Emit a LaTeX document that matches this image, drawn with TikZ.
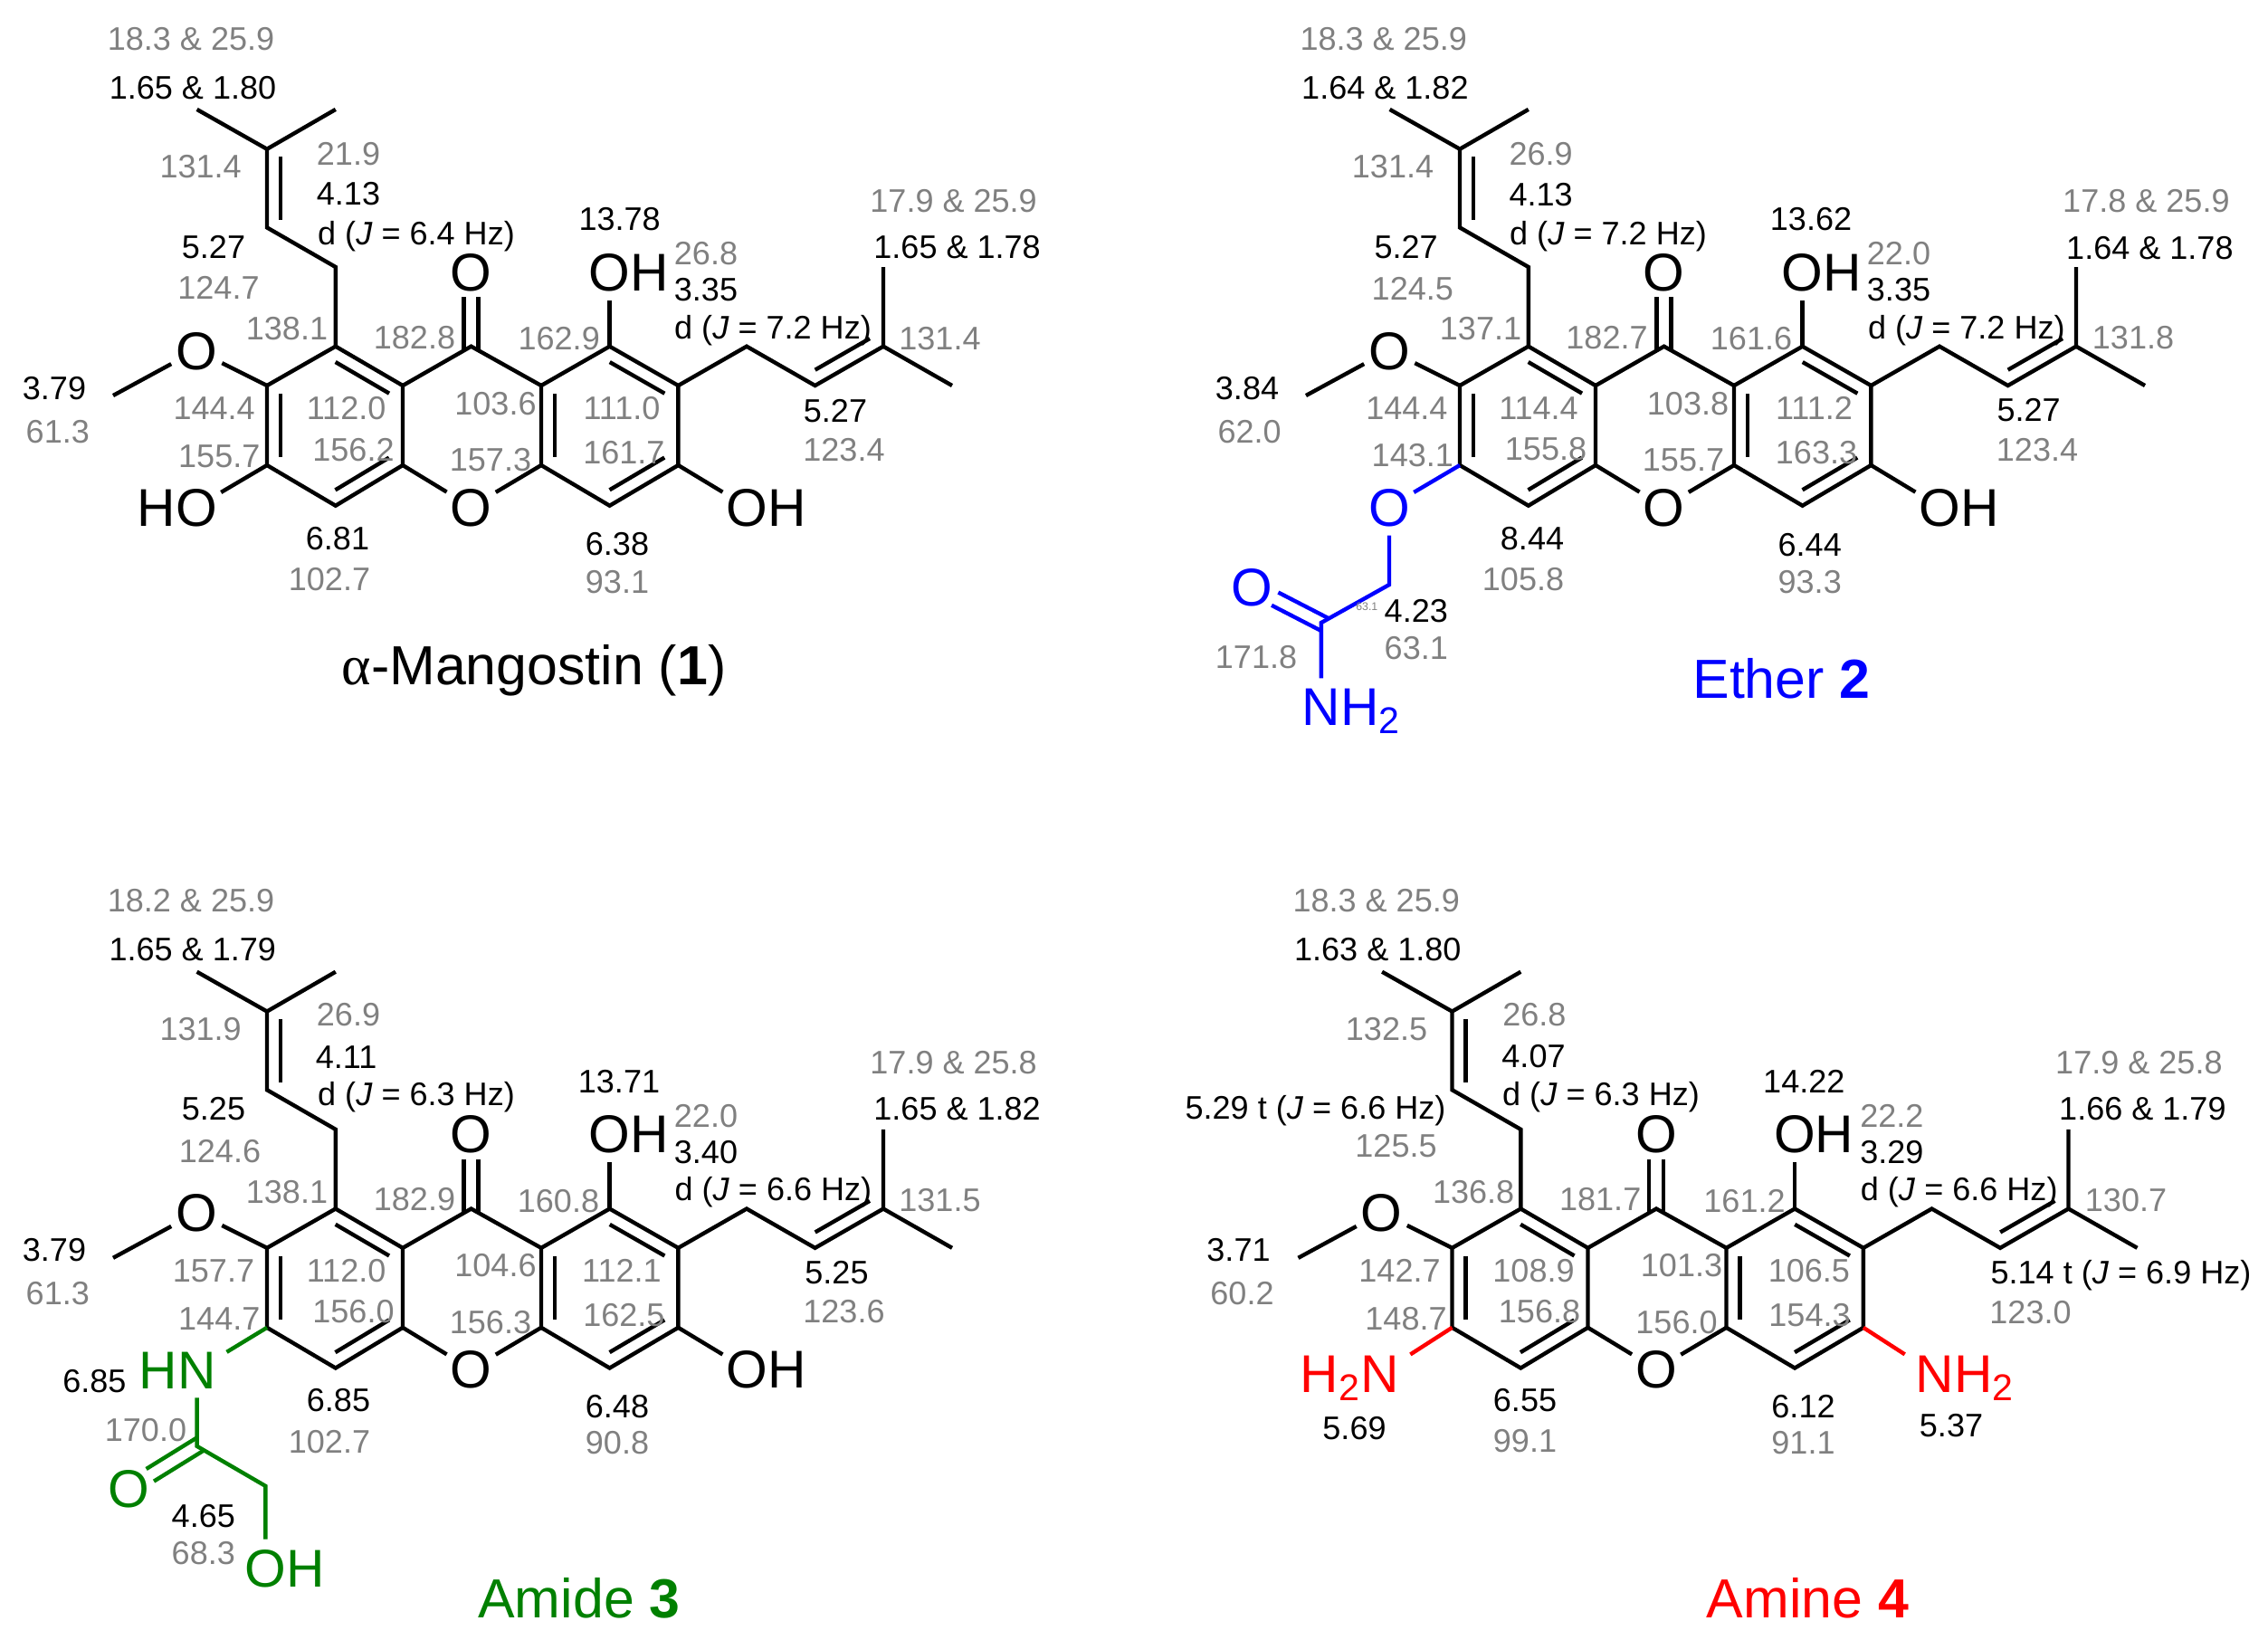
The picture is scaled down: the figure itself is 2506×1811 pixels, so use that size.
\documentclass[tikz,border=0pt]{standalone}
\usepackage{fontspec}
\setmainfont{Liberation Sans}
\newfontfamily\greekfont{Liberation Serif}
\usetikzlibrary{calc}
\definecolor{shiftgray}{HTML}{808080}
\definecolor{ethercol}{HTML}{0000FF}
\definecolor{amidecol}{HTML}{008000}
\definecolor{aminecol}{HTML}{FF0000}
\tikzset{
	bond/.style={line width=1.25pt},
	atom/.style={circle, inner sep=0pt, minimum size=0.56cm, text height=0.42cm, text depth=0pt, font=\fontsize{16.7}{20}\selectfont},
	hshift/.style={inner sep=0pt, text height=0.256cm, text depth=0pt, font=\fontsize{10.25}{12}\selectfont},
	cshift/.style={hshift, text=shiftgray},
	tinyshift/.style={inner sep=0pt, text=shiftgray, font=\fontsize{3.5}{4}\selectfont},
	molname/.style={inner sep=0pt, text height=0.44cm, text depth=0pt, font=\fontsize{17.3}{20}\selectfont}
}
% inner line of a double bond, lies left of the travel direction
\newcommand{\innerbond}[2]{\draw[bond] ($(#1)!.1!(#2)!0.15cm!90:(#2)$) -- ($(#2)!.1!(#1)!0.15cm!-90:(#1)$);}
% carbonyl, two lines from the O node
\newcommand{\carbonyl}[3][black]{\foreach \s in {90,-90} \draw[bond, #1, shorten <=0.28cm, shorten >=-0.05cm] ($(#2)!0.08cm!\s:(#3)$) -- ($(#3)!0.08cm!-\s:(#2)$);}
\newcommand{\dJ}[1]{d (\textit{J} = #1 Hz)}
\newcommand{\skeleton}{
	\coordinate (c1) at (370.8,382.7);
	\coordinate (c2) at (295,426);
	\coordinate (c3) at (295,514);
	\coordinate (c4) at (370.8,558.7);
	\coordinate (c4a) at (445,514);
	\coordinate (c9a) at (445,426);
	\coordinate (c9) at (520.6,382.7);
	\coordinate (c10a) at (598,514);
	\coordinate (c8a) at (598,426);
	\coordinate (c8) at (673.6,382.7);
	\coordinate (c7) at (749.4,426);
	\coordinate (c6) at (749.4,514);
	\coordinate (c5) at (673.6,558.7);
	% left prenyl
	\coordinate (p1) at (370.8,295);
	\coordinate (p2) at (295,251.4);
	\coordinate (p3) at (295,164.7);
	\coordinate (p4) at (217.6,120.9);
	\coordinate (p5) at (370.8,120.9);
	% right prenyl
	\coordinate (q1) at (825,382.7);
	\coordinate (q2) at (900.6,426);
	\coordinate (q3) at (976,382.7);
	\coordinate (q4) at (976,295);
	\coordinate (q5) at (1052,426);
	\coordinate (me) at (125,437);
	\node[atom] (o10) at (520.6,560) {O};
	\node[atom] (o9) at (520.6,300) {O};
	\node[atom] (o8) at (673.6,300) {O\rlap{H}};
	\node[atom] (o2) at (217,387) {O};
	\draw[bond] (c1) -- (c2) -- (c3) -- (c4) -- (c4a) -- (c9a) -- cycle;
	\draw[bond] (c9a) -- (c9) -- (c8a);
	\draw[bond] (c8a) -- (c8) -- (c7) -- (c6) -- (c5) -- (c10a) -- cycle;
	\draw[bond] (c4a) -- (o10) -- (c10a);
	\innerbond{c9a}{c1}
	\innerbond{c2}{c3}
	\innerbond{c4}{c4a}
	\innerbond{c7}{c8}
	\innerbond{c8a}{c10a}
	\innerbond{c5}{c6}
	\carbonyl{o9}{c9}
	\draw[bond] (c8) -- (o8);
	\draw[bond] (c2) -- (o2) -- (me);
	\draw[bond] (c1) -- (p1) -- (p2) -- (p3) -- (p4);
	\draw[bond] (p3) -- (p5);
	\innerbond{p3}{p2}
	\draw[bond] (c7) -- (q1) -- (q2) -- (q3) -- (q4);
	\draw[bond] (q3) -- (q5);
	\innerbond{q2}{q3}
}

\begin{document}
\begin{tikzpicture}[x=0.01cm, y=-0.01cm]
	\useasboundingbox (0,0) rectangle (2506,1811);
	
	%%%%% MANGOSTIN %%%%%
	\begin{scope}[name prefix=m-]
		\skeleton
		\node[atom] (o3) at (217,560) {\llap{H}O};
		\node[atom] (o6) at (825.5,560) {O\rlap{H}};
		\draw[bond] (c3) -- (o3);
		\draw[bond] (c6) -- (o6);
		\foreach \px/\py/\txt [count=\i] in {211/43/18.3 \& 25.9, 221.6/183.6/131.4, 385/170/21.9, 241.5/318/124.7, 780/279.5/26.8, 1053.6/222/17.9 \& 25.9, 1038.5/374/131.4, 317/363/138.1, 458/373/182.8, 617.7/374/162.9, 63.8/477/61.3, 236.7/451/144.4, 382.6/451/112.0, 547.5/446/103.6, 687/451/111.0, 242.3/504/155.7, 390.5/497/156.2, 542/507.5/157.3, 689.4/500/161.7, 932.5/497/123.4, 364/640/102.7, 682/642.6/93.1}
			\node[cshift] (g\i) at (\px,\py) {\txt};
		\foreach \px/\py/\txt [count=\i] in {213/97/1.65 \& 1.80, 385/214/4.13, 460/257.5/\dJ{6.4}, 236/273/5.27, 684.6/242/13.78, 780/320/3.35, 854/362/\dJ{7.2}, 1057.6/273/1.65 \& 1.78, 60/428.4/3.79, 923/454/5.27, 373/595/6.81, 682/601/6.38}
			\node[hshift] (k\i) at (\px,\py) {\txt};
		\node[molname] (name) at (590,734) {{\greekfont\fontsize{17.6}{20}\selectfont α}-Mangostin (\textbf{1})};
	\end{scope}
	
	%%%%% ETHER %%%%%
	\begin{scope}[shift={(1318,0)}, name prefix=e-]
		\skeleton
		\node[atom, text=ethercol] (o3) at (217,560) {O};
		\node[atom] (o6) at (825.5,560) {O\rlap{H}};
		\node[atom, text=ethercol] (o11) at (65.8,648.8) {O};
		\node[atom, text=ethercol] (n1) at (141.9,780) {N\rlap{H\textsubscript{2}}};
		\coordinate (ch2) at (217,646);
		\coordinate (co) at (141.9,688);
		\draw[bond] (c6) -- (o6);
		\draw[bond, ethercol] (c3) -- (o3) -- (ch2) -- (co) -- (n1);
		\carbonyl[ethercol]{o11}{co}
		\foreach \px/\py/\txt [count=\i] in {210.7/42.3/18.3 \& 25.9, 221/184/131.4, 384.6/169.7/26.9, 242.8/318.7/124.5, 780/280/22.0, 1053.4/222/17.8 \& 25.9, 1039/373/131.8, 318/363/137.1, 457.5/373/182.7, 617/374/161.6, 62.6/477/62.0, 236.4/451/144.4, 382/451/114.4, 547/445.5/103.8, 686.5/451/111.2, 242.8/503/143.1, 390/496/155.8, 542/508/155.7, 689/500/163.3, 933/497/123.4, 365/639.6/105.8, 681.7/643/93.3, 246.8/715.4/63.1, 70/726/171.8}
			\node[cshift] (g\i) at (\px,\py) {\txt};
		\foreach \px/\py/\txt [count=\i] in {212.4/96.6/1.64 \& 1.82, 384.6/215/4.13, 459/257.5/\dJ{7.2}, 235.6/272.6/5.27, 683/242/13.62, 780/320/3.35, 854.8/362/\dJ{7.2}, 1057.4/273.7/1.64 \& 1.78, 60/429/3.84, 923.6/452.6/5.27, 375/594.6/8.44, 681.7/601.6/6.44, 246.8/674.8/4.23}
			\node[hshift] (k\i) at (\px,\py) {\txt};
		\node[tinyshift] (g63) at (192.3,670.5) {63.1};
		\node[molname, text=ethercol] (name) at (650.5,749) {Ether \textbf{2}};
	\end{scope}
	
	%%%%% AMIDE %%%%%
	\begin{scope}[shift={(0,952.8)}, name prefix=a-]
		\skeleton
		\node[atom, text=amidecol] (n3) at (217.6,561) {\llap{H}N};
		\node[atom] (o6) at (825.5,560) {O\rlap{H}};
		\node[atom, text=amidecol] (o11) at (142,691.7) {O};
		\node[atom, text=amidecol] (o12) at (293.3,779.5) {O\rlap{H}};
		\coordinate (co) at (217.6,645);
		\coordinate (ch2) at (293.3,689);
		\draw[bond] (c6) -- (o6);
		\draw[bond, amidecol, shorten >=0.08cm] (c3) -- (n3);
		\draw[bond, amidecol] (n3) -- (co) -- (ch2) -- (o12);
		\carbonyl[amidecol]{o11}{co}
		\foreach \px/\py/\txt [count=\i] in {211/42.2/18.2 \& 25.9, 221.6/183.9/131.9, 385/168/26.9, 243/318.4/124.6, 780/280/22.0, 1053.6/221.2/17.9 \& 25.8, 1038.5/373.3/131.5, 317/363.4/138.1, 458/372/182.9, 617/374/160.8, 63.8/476/61.3, 236/451/157.7, 382.6/451/112.0, 547.5/444.6/104.6, 687/451/112.1, 242.3/503.4/144.7, 390.5/495.7/156.0, 542/507.8/156.3, 689.4/499.5/162.5, 932.5/496/123.6, 364/639.5/102.7, 682/641/90.8, 161/627/170.0, 224.8/763/68.3}
			\node[cshift] (g\i) at (\px,\py) {\txt};
		\foreach \px/\py/\txt [count=\i] in {212.8/96.1/1.65 \& 1.79, 382.6/214.7/4.11, 460/256.3/\dJ{6.3}, 236/271.8/5.25, 684/241.5/13.71, 780/319.5/3.40, 854.4/361/\dJ{6.6}, 1057.6/271.7/1.65 \& 1.82, 60/428/3.79, 924.5/453/5.25, 374/594/6.85, 682/601/6.48, 104.4/572.5/6.85, 224.8/722/4.65}
			\node[hshift] (k\i) at (\px,\py) {\txt};
		\node[molname, text=amidecol] (name) at (640,813) {Amide \textbf{3}};
	\end{scope}
	
	%%%%% AMINE %%%%%
	\begin{scope}[shift={(1309.5,952.8)}, name prefix=n-]
		\skeleton
		\node[atom, text=aminecol] (n3) at (215.6,565) {\llap{H\textsubscript{2}}N};
		\node[atom, text=aminecol] (n6) at (828.4,565) {N\rlap{H\textsubscript{2}}};
		\draw[bond, aminecol, shorten >=0.09cm] (c3) -- (n3);
		\draw[bond, aminecol, shorten >=0.09cm] (c6) -- (n6);
		\foreach \px/\py/\txt [count=\i] in {211.2/42.2/18.3 \& 25.9, 222.5/183.9/132.5, 385.9/168/26.8, 233/313/125.5, 780.8/280/22.2, 1053.9/221.2/17.9 \& 25.8, 1039.5/373.3/130.7, 318.6/363.4/136.8, 458.7/372/181.7, 618/374/161.2, 63/476/60.2, 237/451/142.7, 385/451/108.9, 548.5/444.6/101.3, 689.4/451/106.5, 244/503.4/148.7, 391.5/495.7/156.8, 543/507.8/156.0, 690/499.5/154.3, 934/497/123.0, 375.5/638.4/99.1, 683/641/91.1}
			\node[cshift] (g\i) at (\px,\py) {\txt};
		\foreach \px/\py/\txt [count=\i] in {212.8/96.1/1.63 \& 1.80, 385/214.2/4.07, 459.5/256.3/\dJ{6.3}, 144/270.6/5.29 t (\textit{J} = 6.6 Hz), 683.8/241.5/14.22, 780.8/319.5/3.29, 855.2/361/\dJ{6.6}, 1057.9/271.7/1.66 \& 1.79, 59/428/3.71, 1034/453/5.14 t (\textit{J} = 6.9 Hz), 375.5/594/6.55, 683/601/6.12, 187/625/5.69, 846.5/622/5.37}
			\node[hshift] (k\i) at (\px,\py) {\txt};
		\node[molname, text=aminecol] (name) at (688,813) {Amine \textbf{4}};
	\end{scope}
\end{tikzpicture}
\end{document}
